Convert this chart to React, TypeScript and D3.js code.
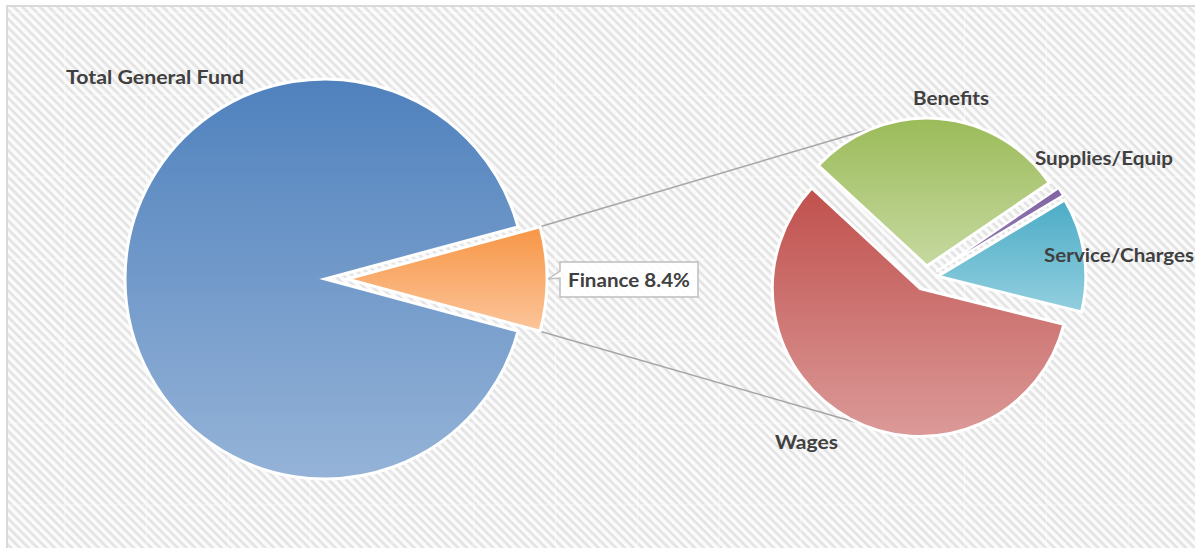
import React from "react";
import * as d3 from "d3";

// ---- data ----
const mainCategories = ["Total General Fund", "Finance"];
const mainValues = [91.6, 8.4];
const subCategories = ["Wages", "Benefits", "Supplies/Equip", "Service/Charges"];
const subValues = [58.0, 28.6, 0.9, 12.5];
const financeLabel = "Finance 8.4%";

const W = 1195;
const H = 548;

const mainColors = [
  ["#4f81bd", "#95b3d7"],
  ["#f79646", "#fcc59a"],
];
const subColors = [
  ["#c0504d", "#db9a98"],
  ["#9bbb59", "#c6d9a0"],
  ["#8064a2", "#9a83b8"],
  ["#4bacc6", "#93cfdf"],
];

const FONT = "Lato, 'Open Sans', sans-serif";
const TEXT = "#404040";

function pt(cx: number, cy: number, r: number, a: number): [number, number] {
  return [cx + r * Math.sin(a), cy - r * Math.cos(a)];
}

export default function App() {
  // left pie
  const lcx = 325, lcy = 279, lr = 200, lExplode = 22;
  const finShare = mainValues[1] / d3.sum(mainValues);
  const lStart = Math.PI / 2 + Math.PI * finShare;
  const leftPie = d3.pie<number>().sort(null).startAngle(lStart).endAngle(lStart + 2 * Math.PI)(mainValues);
  const leftArc = d3.arc<d3.PieArcDatum<number>>().innerRadius(0).outerRadius(lr);

  // right pie
  const rcx = 926, rcy = 278, rr = 148, rExplode = 12;
  const rStart = (104 * Math.PI) / 180;
  const rightPie = d3.pie<number>().sort(null).startAngle(rStart).endAngle(rStart + 2 * Math.PI)(subValues);
  const rightArc = d3.arc<d3.PieArcDatum<number>>().innerRadius(0).outerRadius(rr);

  const off = (d: d3.PieArcDatum<number>, e: number): [number, number] => {
    const m = (d.startAngle + d.endAngle) / 2;
    return [e * Math.sin(m), -e * Math.cos(m)];
  };

  // connector lines
  const fin = leftPie[1];
  const [fox, foy] = off(fin, lExplode);
  const c1 = pt(lcx + fox, lcy + foy, lr - 1, fin.startAngle);
  const c2 = pt(lcx + fox, lcy + foy, lr - 1, fin.endAngle);
  const ben = rightPie[1];
  const wag = rightPie[0];
  const [box, boy] = off(ben, rExplode);
  const [wox, woy] = off(wag, rExplode);
  const e1 = pt(rcx + box, rcy + boy, rr, (-21.4 * Math.PI) / 180);
  const e2 = pt(rcx + wox, rcy + woy, rr, (204.8 * Math.PI) / 180);

  // background tile seams
  const seamX = d3.range(65 - 82, W + 82, 81.8);
  const seamY = d3.range(95 - 82, H + 82, 82);

  const labelStyle = {
    fontFamily: FONT,
    fontWeight: 700,
    fontSize: 18,
    fill: TEXT,
  } as const;

  return (
    <svg
      width={W}
      height={H}
      style={{ position: "absolute", left: 0, top: 0, display: "block" }}
    >
      <defs>
        <pattern
          id="stripes"
          patternUnits="userSpaceOnUse"
          width={12}
          height={6.2}
          patternTransform="rotate(45)"
        >
          <rect x={0} y={0} width={12} height={6.2} fill="#fbfbfb" />
          <rect x={0} y={0} width={12} height={2.8} fill="#e4e4e4" />
        </pattern>
        {mainColors.map((c, i) => (
          <linearGradient key={"mg" + i} id={"mg" + i} x1="0" y1="0" x2="0" y2="1">
            <stop offset="0" stopColor={c[0]} />
            <stop offset="1" stopColor={c[1]} />
          </linearGradient>
        ))}
        {subColors.map((c, i) => (
          <linearGradient key={"sg" + i} id={"sg" + i} x1="0" y1="0" x2="0" y2="1">
            <stop offset="0" stopColor={c[0]} />
            <stop offset="1" stopColor={c[1]} />
          </linearGradient>
        ))}
      </defs>

      <rect x={0} y={0} width={W} height={H} fill="#ffffff" />
      <rect x={7} y={6} width={W + 20} height={H + 20} fill="url(#stripes)" stroke="#d9d9d9" strokeWidth={2} />
      <g opacity={0.55}>
        {seamX.filter((x) => x > 8).map((x, i) => (
          <line key={"sx" + i} x1={x} x2={x} y1={7} y2={H} stroke="#ffffff" strokeWidth={1} />
        ))}
        {seamY.filter((y) => y > 7).map((y, i) => (
          <line key={"sy" + i} x1={8} x2={W} y1={y} y2={y} stroke="#ffffff" strokeWidth={1} />
        ))}
      </g>

      {/* connector lines */}
      <line x1={c1[0]} y1={c1[1]} x2={e1[0]} y2={e1[1]} stroke="#a6a6a6" strokeWidth={1.5} />
      <line x1={c2[0]} y1={c2[1]} x2={e2[0]} y2={e2[1]} stroke="#a6a6a6" strokeWidth={1.5} />

      {/* left pie */}
      {leftPie.map((d, i) => {
        const [ox, oy] = i === 1 ? off(d, lExplode) : [0, 0];
        return (
          <path
            key={"l" + i}
            d={leftArc(d) || ""}
            transform={`translate(${lcx + ox},${lcy + oy})`}
            fill={`url(#mg${i})`}
            stroke="#ffffff"
            strokeWidth={3}
            strokeLinejoin="miter"
          />
        );
      })}

      {/* right pie */}
      {rightPie.map((d, i) => {
        const [ox, oy] = off(d, rExplode);
        return (
          <path
            key={"r" + i}
            d={rightArc(d) || ""}
            transform={`translate(${rcx + ox},${rcy + oy})`}
            fill={`url(#sg${i})`}
            stroke="#ffffff"
            strokeWidth={i === 2 ? 2 : 3}
          />
        );
      })}

      {/* finance callout */}
      <path
        d="M560,262 L698,262 L698,297 L560,297 L560,278 L548,279 L560,271 Z"
        fill="#ffffff"
        fillOpacity={0.9}
        stroke="#bfbfbf"
        strokeWidth={1.5}
      />
      <text x={568} y={287} textLength={122} lengthAdjust="spacingAndGlyphs" {...labelStyle}>
        {financeLabel}
      </text>

      {/* labels */}
      <text x={66} y={84} textLength={178} lengthAdjust="spacingAndGlyphs" {...labelStyle}>
        {mainCategories[0]}
      </text>
      <text x={775} y={449} textLength={63} lengthAdjust="spacingAndGlyphs" {...labelStyle}>
        {subCategories[0]}
      </text>
      <text x={913} y={105} textLength={76} lengthAdjust="spacingAndGlyphs" {...labelStyle}>
        {subCategories[1]}
      </text>
      <text x={1035} y={165} textLength={138} lengthAdjust="spacingAndGlyphs" {...labelStyle}>
        {subCategories[2]}
      </text>
      <text x={1044} y={262} textLength={150} lengthAdjust="spacingAndGlyphs" {...labelStyle}>
        {subCategories[3]}
      </text>
    </svg>
  );
}
